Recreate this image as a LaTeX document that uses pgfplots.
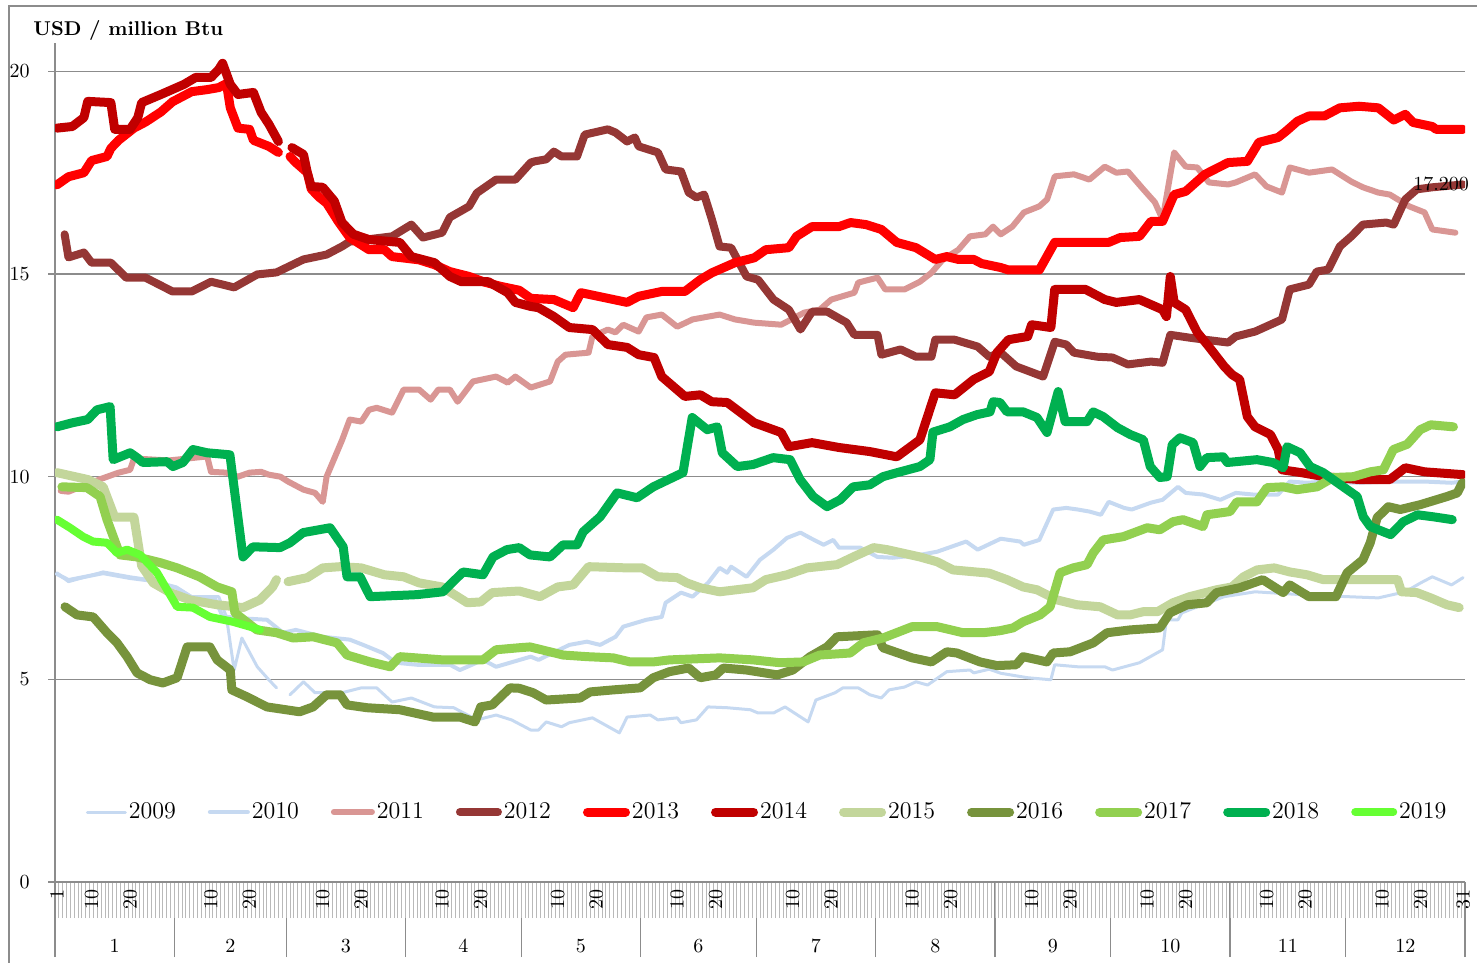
\documentclass[border=0pt]{standalone}
\usepackage{pgfplots}
\pgfplotsset{compat=1.18}
\definecolor{c09}{HTML}{C6D9F1}
\definecolor{c10}{HTML}{C6D9F1}
\definecolor{c11}{HTML}{D99694}
\definecolor{c12}{HTML}{953735}
\definecolor{c13}{HTML}{FF0000}
\definecolor{c14}{HTML}{C00000}
\definecolor{c15}{HTML}{C3D69B}
\definecolor{c16}{HTML}{77933C}
\definecolor{c17}{HTML}{92D050}
\definecolor{c18}{HTML}{00B050}
\definecolor{c19}{HTML}{66FF33}
\definecolor{axgray}{HTML}{8C8C8C}
\begin{document}
\begin{tikzpicture}[x=1pt,y=1pt]
\useasboundingbox (0,0) rectangle (738.5,-481.5);
\draw[axgray, line width=0.6pt] (4.5,-481.5) -- (4.5,-3) -- (738.5,-3);
% month row: separators and month numbers
\begin{axis}[
  at={(27.5pt,-441pt)}, anchor=south west, scale only axis,
  width=705pt, height=419.5pt,
  xmin=0.5, xmax=366.5, ymin=0, ymax=20.7,
  axis y line=none, axis x line=bottom, axis line style={draw=none},
  xtick={16,46,76,106.5,137,167.5,198,229,259.5,290,320.5,351},
  xticklabels={1,2,3,4,5,6,7,8,9,10,11,12},
  minor xtick={0.5,31.5,60.5,91.5,121.5,152.5,182.5,213.5,244.5,274.5,305.5,335.5,366.5},
  tick align=outside, major tick length=0pt, minor tick length=37.5pt,
  major x tick style={draw=none}, minor x tick style={draw=axgray, line width=0.6pt},
  xticklabel style={anchor=base, yshift=-35pt},
]
\end{axis}
% data axis
\begin{axis}[
  at={(27.5pt,-441pt)}, anchor=south west, scale only axis,
  width=705pt, height=419.5pt,
  xmin=0.5, xmax=366.5, ymin=0, ymax=20.7,
  axis x line=bottom, axis y line=left,
  axis line style={draw=axgray, line width=0.6pt, -},
  ytick={0,5,10,15,20}, ymajorgrids,
  major grid style={draw=axgray, line width=0.6pt},
  xtick={1,10,20,41,51,70,80,101,111,131,141,162,172,192,202,223,233,254,264,284,294,315,325,345,355,366},
  xticklabels={1,10,20,10,20,10,20,10,20,10,20,10,20,10,20,10,20,10,20,10,20,10,20,10,20,31},
  minor xtick={1.5,2.5,...,365.5},
  tick align=outside, major tick length=3.5pt, minor tick length=18pt,
  major x tick style={draw=none},
  minor x tick style={draw=gray!55, line width=0.5pt},
  major y tick style={draw=axgray, line width=0.6pt},
  xticklabel style={rotate=90, anchor=east, inner sep=0pt},
  yticklabel style={inner sep=0pt},
  yticklabel shift=9pt,
  clip mode=individual,
  unbounded coords=jump,
  every axis plot/.append style={line join=round, line cap=round},
  legend columns=11,
  legend style={at={(0.505,0.0834)}, anchor=center, draw=none, fill=none,
    font=\large, nodes={inner sep=1pt},
    /tikz/every even column/.append style={column sep=15pt}},
  legend image code/.code={\draw[#1] (0pt,0pt) -- (19pt,0pt);},
]
\addplot[c09, line width=1.5pt] coordinates {
(1,7.63)(4,7.41)(13,7.65)(20,7.53)(25,7.46)(32,7.28)(36,7.04)(43,7.04)(45,6.54)(47,5.23)(49,6.02)(53,5.31)(56,4.99)(58,4.79)(60,nan)
(61.5,4.62)(65,4.94)(68,4.67)(71,4.67)(75,4.67)(80,4.79)(84,4.79)(88,4.44)(93,4.54)(99,4.32)(104,4.3)(110,4.0)(115,4.12)(119,4.0)
(124,3.75)(126,3.75)(128,3.95)(132,3.83)(134,3.93)(140,4.05)(147,3.68)(149,4.07)(155,4.12)(157,4.0)(162,4.05)(163,3.93)(167,4.0)
(170,4.32)(175,4.3)(181,4.25)(183,4.17)(187,4.17)(190,4.32)(196,3.95)(198,4.49)(203,4.67)(205,4.79)(209,4.79)(212,4.62)(215,4.54)
(217,4.74)(221,4.81)(224,4.94)(227,4.86)(232,5.19)(238,5.23)(239,5.16)(243,5.25)(246,5.15)(253,5.04)(259,4.99)(260,5.36)(266,5.31)
(273,5.31)(275,5.23)(282,5.41)(288,5.73)(289,6.47)(292,6.47)(293,6.64)(297,6.79)(304,7.04)(312,7.16)(324,7.09)(336,7.04)(344,7.01)
(351,7.16)(355,7.38)(358,7.53)(363,7.33)(366,7.51)
};
\addlegendentry{2009}
\addplot[c10, line width=2pt] coordinates {
(1,7.6)(4,7.45)(13,7.62)(20,7.5)(25,7.44)(32,7.26)(36,7.02)(42,7.0)(44,6.55)(50,6.5)(55.5,6.47)(59.7,6.15)(63,6.22)(70,6.05)(77,5.98)
(80.5,5.85)(85.6,5.65)(89,5.41)(94.5,5.36)(103,5.36)(105.6,5.23)(111.6,5.48)(115,5.31)(124,5.56)(126,5.48)(134,5.85)(138.6,5.93)
(142,5.85)(146,6.05)(148,6.3)(154,6.47)(158,6.54)(159,6.89)(163,7.14)(166,7.04)(170,7.38)(173,7.75)(175,7.63)(176,7.78)(180,7.53)
(183.5,7.95)(187,8.2)(190.5,8.49)(194,8.62)(196.5,8.49)(200,8.32)(202.5,8.44)(204,8.25)(209.5,8.25)(214,8.02)(218,8.0)(225,8.07)
(229.5,8.15)(237,8.4)(240,8.2)(246,8.47)(251,8.4)(252,8.32)(256,8.44)(259.6,9.19)(263,9.23)(266,9.19)(269,9.14)(272,9.06)(274,9.38)
(278,9.23)(280,9.19)(285,9.36)(288,9.43)(292,9.75)(294,9.6)(298.5,9.56)(303,9.43)(307,9.6)(311.5,9.56)(318,9.56)(321,9.88)
(325.5,9.85)(330,9.88)(338.5,9.85)(347,9.88)(356,9.88)(363,9.85)(366,9.88)
};
\addlegendentry{2010}
\addplot[c11, line width=3pt] coordinates {
(2,9.65)(4,9.63)(12,9.93)(17,10.1)(20,10.17)(21,10.45)(30,10.4)(40,10.5)(41,10.12)(45,10.1)(48,10.0)(51,10.1)(54,10.12)(56,10.05)
(59,10.0)(61,9.88)(65,9.68)(68,9.6)(70,9.38)(71,10.0)(75,10.9)(77,11.41)(80,11.36)(82,11.65)(84,11.7)(88,11.58)(91,12.15)(95,12.15)
(98,11.9)(100,12.15)(103,12.15)(105,11.85)(109,12.35)(115,12.47)(118,12.32)(120,12.47)(124,12.2)(129,12.35)(131,12.84)(133,13.01)
(139,13.06)(140,13.46)(144,13.63)(146,13.56)(148,13.75)(152,13.58)(154,13.93)(158,14.0)(162,13.7)(166,13.88)(173,14.0)(177,13.88)
(182,13.8)(189,13.75)(195,14.05)(199,14.12)(202,14.37)(208,14.54)(209,14.79)(214,14.91)(216,14.62)(221,14.62)(225,14.81)(228,15.03)
(231,15.36)(235,15.6)(238,15.93)(242,15.98)(244,16.17)(246,15.98)(249,16.17)(252,16.52)(256,16.67)(258,16.84)(260,17.41)(265,17.46)
(269,17.33)(273,17.65)(276,17.5)(279,17.53)(283,17.09)(286,16.77)(288,16.35)(291,18.0)(294,17.65)(297,17.63)(300,17.26)(305,17.21)
(307,17.26)(312,17.46)(315,17.16)(319,17.01)(321,17.63)(326,17.5)(332,17.58)(337,17.28)(340,17.14)(344,17.01)(347,16.96)(352,16.67)
(356,16.52)(358,16.1)(364,16.02)
};
\addlegendentry{2011}
\addplot[c12, line width=4pt] coordinates {
(3,15.98)(4,15.41)(8,15.53)(10,15.28)(15,15.28)(19,14.91)(24,14.91)(31,14.57)(36,14.57)(41,14.81)(47,14.67)(53,14.99)(58,15.04)
(65,15.36)(71,15.48)(75,15.68)(77,15.8)(88,15.93)(93,16.22)(96,15.9)(101,16.02)(103,16.4)(108,16.67)(110,17.0)(115,17.33)(120,17.33)
(124,17.75)(125,17.78)(128,17.83)(130,18.02)(132,17.9)(136,17.9)(138,18.44)(144,18.57)(146,18.49)(149,18.27)(151,18.37)(152,18.15)
(157,18.0)(159,17.58)(163,17.53)(165,17.01)(167,16.89)(169,16.96)(171,16.35)(173,15.68)(176,15.65)(180,14.94)(183,14.86)(187,14.37)
(191,14.12)(194,13.63)(197,14.07)(201,14.07)(206,13.8)(208,13.5)(214,13.5)(215,13.01)(220,13.14)(224,12.96)(228,12.96)(229,13.38)
(234,13.38)(240,13.21)(243,12.96)(246,13.06)(250,12.72)(257,12.47)(260,13.33)(263,13.26)(265,13.06)(271,12.96)(275,12.94)(279,12.77)
(285,12.84)(288,12.81)(290,13.5)(295,13.43)(299,13.38)(305,13.31)(307,13.46)(312,13.58)(319,13.88)(321,14.62)(326,14.74)(328,15.06)
(331,15.11)(334,15.68)(337,15.93)(340,16.22)(346,16.27)(348,16.22)(351,16.84)(354,17.09)(358,17.14)(366,17.21)
};
\addlegendentry{2012}
\addplot[c13, line width=4.5pt] coordinates {
(1,17.2)(4,17.4)(8,17.5)(10,17.8)(14,17.9)(15,18.1)(17,18.3)(21,18.6)(24,18.75)(28,19.0)(31,19.25)(34,19.4)(36,19.5)(40,19.55)
(43,19.6)(45,19.7)(46,19.1)(48,18.6)(51,18.57)(52,18.3)(56,18.15)(58.5,18.0)(60,nan)(61.5,17.9)(63,17.75)(66,17.5)(67,17.1)(69,16.9)
(71,16.75)(74,16.3)(77,15.9)(82,15.6)(86,15.6)(88,15.43)(95,15.35)(99,15.23)(103,15.06)(108,14.94)(112,14.8)(116,14.7)(121,14.6)
(124,14.4)(130,14.37)(135,14.17)(137,14.54)(143,14.42)(149,14.3)(152,14.45)(158,14.57)(164,14.57)(168,14.86)(171,15.03)(177,15.28)
(182,15.4)(185,15.6)(191,15.65)(193,15.93)(197,16.17)(204,16.17)(207,16.27)(211,16.22)(215,16.1)(219,15.78)(224,15.65)(229,15.36)
(232,15.43)(235,15.36)(239,15.36)(241,15.26)(246,15.16)(248,15.1)(256,15.1)(260,15.78)(274,15.78)(277,15.9)(282,15.93)(285,16.3)
(288,16.3)(291,16.96)(294,17.04)(299,17.46)(305,17.75)(310,17.78)(313,18.25)(318,18.37)(320,18.52)(323,18.77)(326,18.9)(330,18.9)
(334,19.1)(339,19.14)(344,19.1)(348,18.8)(351,18.94)(353,18.74)(358,18.64)(359,18.57)(366,18.57)
};
\addlegendentry{2013}
\addplot[c14, line width=4.5pt] coordinates {
(1,18.6)(5,18.64)(8,18.86)(9,19.26)(15,19.23)(16,18.57)(20,18.57)(22,18.86)(23,19.23)(28,19.43)(34,19.68)(37,19.85)(41,19.85)
(43,20.05)(44,20.2)(46,19.68)(48,19.43)(52,19.48)(54,18.99)(56,18.7)(58.5,18.27)(60,nan)(62,18.12)(65,17.95)(66,17.5)(67,17.16)
(70,17.14)(73,16.8)(75,16.27)(78,15.98)(82,15.85)(90,15.78)(93,15.43)(99,15.28)(103,14.94)(106,14.81)(113,14.81)(118,14.54)(120,14.3)
(124,14.2)(126,14.17)(130,13.95)(134,13.68)(140,13.63)(144,13.26)(149,13.19)(152,13.01)(156,12.94)(158,12.47)(164,11.98)(168,12.02)
(171,11.85)(175,11.83)(182,11.33)(189,11.09)(191,10.74)(197,10.84)(204,10.72)(212,10.62)(219,10.49)(225,10.91)(229,12.07)(234,12.02)
(239,12.4)(243,12.59)(245,13.06)(248,13.38)(253,13.46)(254,13.75)(259,13.68)(260,14.62)(268,14.62)(273,14.37)(276,14.3)(282,14.37)
(288,14.12)(289,13.95)(290,14.94)(291,14.3)(294,14.12)(297,13.56)(300,13.21)(304,12.72)(306,12.52)(308,12.4)(310,11.48)(312,11.23)
(316,11.04)(318,10.67)(319,10.17)(324,10.1)(330,10.0)(339,9.93)(347,9.93)(351,10.22)(356,10.12)(366,10.05)
};
\addlegendentry{2014}
\addplot[c15, line width=4.5pt] coordinates {
(1,10.1)(9,9.93)(13,9.75)(16,9.0)(21,9.0)(23,7.8)(26,7.38)(30.4,7.14)(35.5,6.96)(42.6,6.84)(49.3,6.77)(53.7,6.96)(57,7.28)(58,7.46)
(59.5,nan)(61,7.41)(66,7.51)(70,7.75)(74.5,7.78)(80,7.75)(86,7.58)(91,7.53)(95,7.38)(101,7.28)(107.5,6.89)(111,6.91)(114,7.14)
(121,7.18)(126.4,7.04)(131,7.28)(135,7.33)(139,7.78)(149,7.75)(153,7.75)(157,7.53)(162,7.51)(164.5,7.38)(168,7.26)(173,7.16)
(181.7,7.26)(185,7.46)(190.5,7.58)(195.7,7.75)(203.5,7.83)(207.7,8.02)(213,8.25)(216.5,8.2)(225,8.02)(229.5,7.9)(233.6,7.7)
(243,7.62)(247.6,7.46)(251.8,7.28)(255.4,7.21)(260.6,6.96)(265.8,6.84)(271.8,6.79)(276.3,6.59)(279.6,6.59)(283,6.67)(286.7,6.67)
(290.7,6.89)(295,7.04)(302,7.21)(306,7.28)(309,7.53)(312.5,7.7)(317,7.75)(321,7.65)(325.5,7.58)(329.7,7.46)(338.5,7.46)(349,7.46)
(350,7.16)(354,7.14)(357.6,7.01)(361.8,6.84)(365,6.77)
};
\addlegendentry{2015}
\addplot[c16, line width=4.5pt] coordinates {
(3.1,6.79)(6.2,6.59)(10.4,6.54)(14,6.15)(16.6,5.9)(19.2,5.56)(21.8,5.16)(25.2,4.99)(28.5,4.91)(32.2,5.04)(34.8,5.8)(40.7,5.8)
(42.6,5.48)(46,5.23)(46.4,4.74)(50.3,4.57)(55.5,4.32)(64,4.2)(67.5,4.32)(71,4.62)(74.5,4.62)(76.3,4.37)(81.5,4.3)(90,4.25)(98.6,4.07)
(105.6,4.07)(109.5,3.95)(111,4.32)(114,4.37)(118.6,4.79)(121,4.78)(124.6,4.67)(128,4.49)(136.8,4.54)(139.4,4.69)(145.4,4.74)
(152.4,4.79)(155.8,5.04)(160,5.19)(165,5.28)(168,5.04)(172,5.11)(174,5.28)(180,5.23)(188,5.11)(192,5.23)(196.5,5.56)(200.9,5.8)
(203.5,6.05)(214,6.1)(215.4,5.78)(223,5.53)(228,5.43)(232,5.68)(234.6,5.65)(240.6,5.43)(245,5.34)(250,5.36)(251.8,5.56)(258,5.43)
(259.6,5.65)(264,5.68)(270,5.9)(273.6,6.15)(279.6,6.22)(287.3,6.27)(289.9,6.64)(294.4,6.84)(299.5,6.89)(302,7.14)(308,7.26)
(314,7.46)(319.3,7.14)(321,7.33)(326,7.04)(333,7.04)(335.9,7.63)(340,7.95)(341.9,8.37)(343.7,8.99)(346.6,9.26)(349.7,9.19)
(354.9,9.31)(361.8,9.51)(364.5,9.6)(365.8,9.85)
};
\addlegendentry{2016}
\addplot[c17, line width=4.5pt] coordinates {
(2.3,9.75)(8.8,9.73)(12.2,9.51)(14,8.94)(16.6,8.27)(17.4,8.07)(21.8,8.02)(27.8,7.88)(32.2,7.75)(38,7.53)(42.6,7.28)(46.4,7.16)
(47.2,6.64)(52.9,6.22)(58,6.15)(62.3,6.02)(67.5,6.05)(73.7,5.9)(76.3,5.6)(82.3,5.43)(87.5,5.31)(90,5.56)(101.2,5.48)(111.6,5.48)
(115,5.73)(121,5.78)(123.8,5.8)(132.4,5.6)(138.6,5.56)(145.4,5.53)(149.8,5.43)(155.8,5.43)(160,5.48)(173,5.53)(181.7,5.48)
(188.7,5.41)(194.7,5.43)(199,5.6)(206.9,5.65)(210.3,5.9)(215.4,6.02)(223,6.3)(229.5,6.3)(236.2,6.15)(241.4,6.15)(245.8,6.2)
(249.2,6.27)(251.8,6.42)(256.2,6.59)(258.8,6.79)(261.4,7.63)(264.8,7.75)(268.4,7.83)(270,8.12)(272.6,8.44)(277.8,8.52)(284,8.74)
(287.3,8.69)(290.7,8.89)(293.3,8.94)(298.5,8.77)(299.5,9.06)(305.5,9.14)(307.3,9.38)(312.5,9.38)(315.1,9.73)(319.3,9.75)(322.9,9.68)
(328.1,9.75)(332.3,9.98)(337.5,10.0)(341.9,10.12)(345.3,10.17)(347.9,10.67)(351.5,10.8)(354.9,11.16)(357.6,11.28)(363.5,11.23)
};
\addlegendentry{2017}
\addplot[c18, line width=4.5pt] coordinates {
(1,11.23)(5,11.33)(9,11.41)(11.4,11.65)(14.8,11.73)(15.6,10.42)(20,10.59)(21.8,10.47)(23.3,10.35)(29.6,10.37)(31.1,10.25)(33.7,10.35)
(36.3,10.67)(40,10.59)(45.9,10.54)(49.3,8.02)(51.9,8.27)(58.9,8.25)(61.5,8.37)(64.9,8.62)(71.9,8.74)(75.3,8.27)(76.3,7.53)(79.7,7.53)
(82.3,7.04)(94.5,7.09)(101.2,7.16)(106.4,7.65)(111.6,7.58)(114.2,8.02)(117.8,8.2)(121,8.25)(123.8,8.07)(129,8.02)(132.4,8.32)
(136,8.32)(137.6,8.64)(142,9.01)(146.4,9.6)(151.6,9.48)(155.8,9.75)(163.5,10.1)(165.9,11.46)(169.8,11.16)(172.4,11.23)(173.7,10.59)
(177.6,10.25)(181.7,10.3)(186.9,10.47)(191.3,10.42)(193.9,9.93)(197.3,9.51)(200.9,9.26)(204.3,9.43)(207.7,9.75)(212,9.8)(215.4,10.0)
(219.1,10.1)(225,10.25)(227.6,10.42)(228.4,11.1)(232.8,11.23)(236.2,11.41)(239.8,11.53)(243.2,11.6)(244,11.85)(245.8,11.83)
(247.6,11.6)(251.8,11.6)(255.4,11.46)(258,11.09)(260.9,12.1)(262.7,11.36)(268.4,11.36)(270,11.6)(272.6,11.48)(276.3,11.21)
(279.6,11.04)(283,10.91)(284.8,10.25)(287.3,9.98)(289.2,10.0)(290.5,10.79)(292.5,10.96)(295.9,10.84)(297.7,10.25)(299.5,10.47)
(303.7,10.49)(304.8,10.35)(312.5,10.42)(316.6,10.35)(319.3,10.22)(320.3,10.74)(323.7,10.59)(326.3,10.25)(329.7,10.1)(333.4,9.85)
(338.5,9.51)(340.1,9.01)(341.9,8.77)(347.2,8.57)(350.5,8.89)(354.2,9.06)(358.3,9.01)(363.2,8.94)
};
\addlegendentry{2018}
\addplot[c19, line width=4pt] coordinates {
(1,8.94)(4.4,8.74)(7.8,8.52)(10.4,8.4)(14,8.37)(16.6,8.12)(19.2,8.2)(22.6,8.07)(27,7.63)(29.6,7.21)(32.2,6.79)(36.3,6.77)(40.7,6.54)
(46.7,6.42)(51.1,6.3)(53.7,6.22)
};
\addlegendentry{2019}
\node[anchor=west, inner sep=0pt] at (axis cs:353,17.21) {17.200};
\end{axis}
\node[anchor=west, inner sep=0pt, font=\bfseries] at (16.5,-15.5) {USD / million Btu};
\end{tikzpicture}
\end{document}
